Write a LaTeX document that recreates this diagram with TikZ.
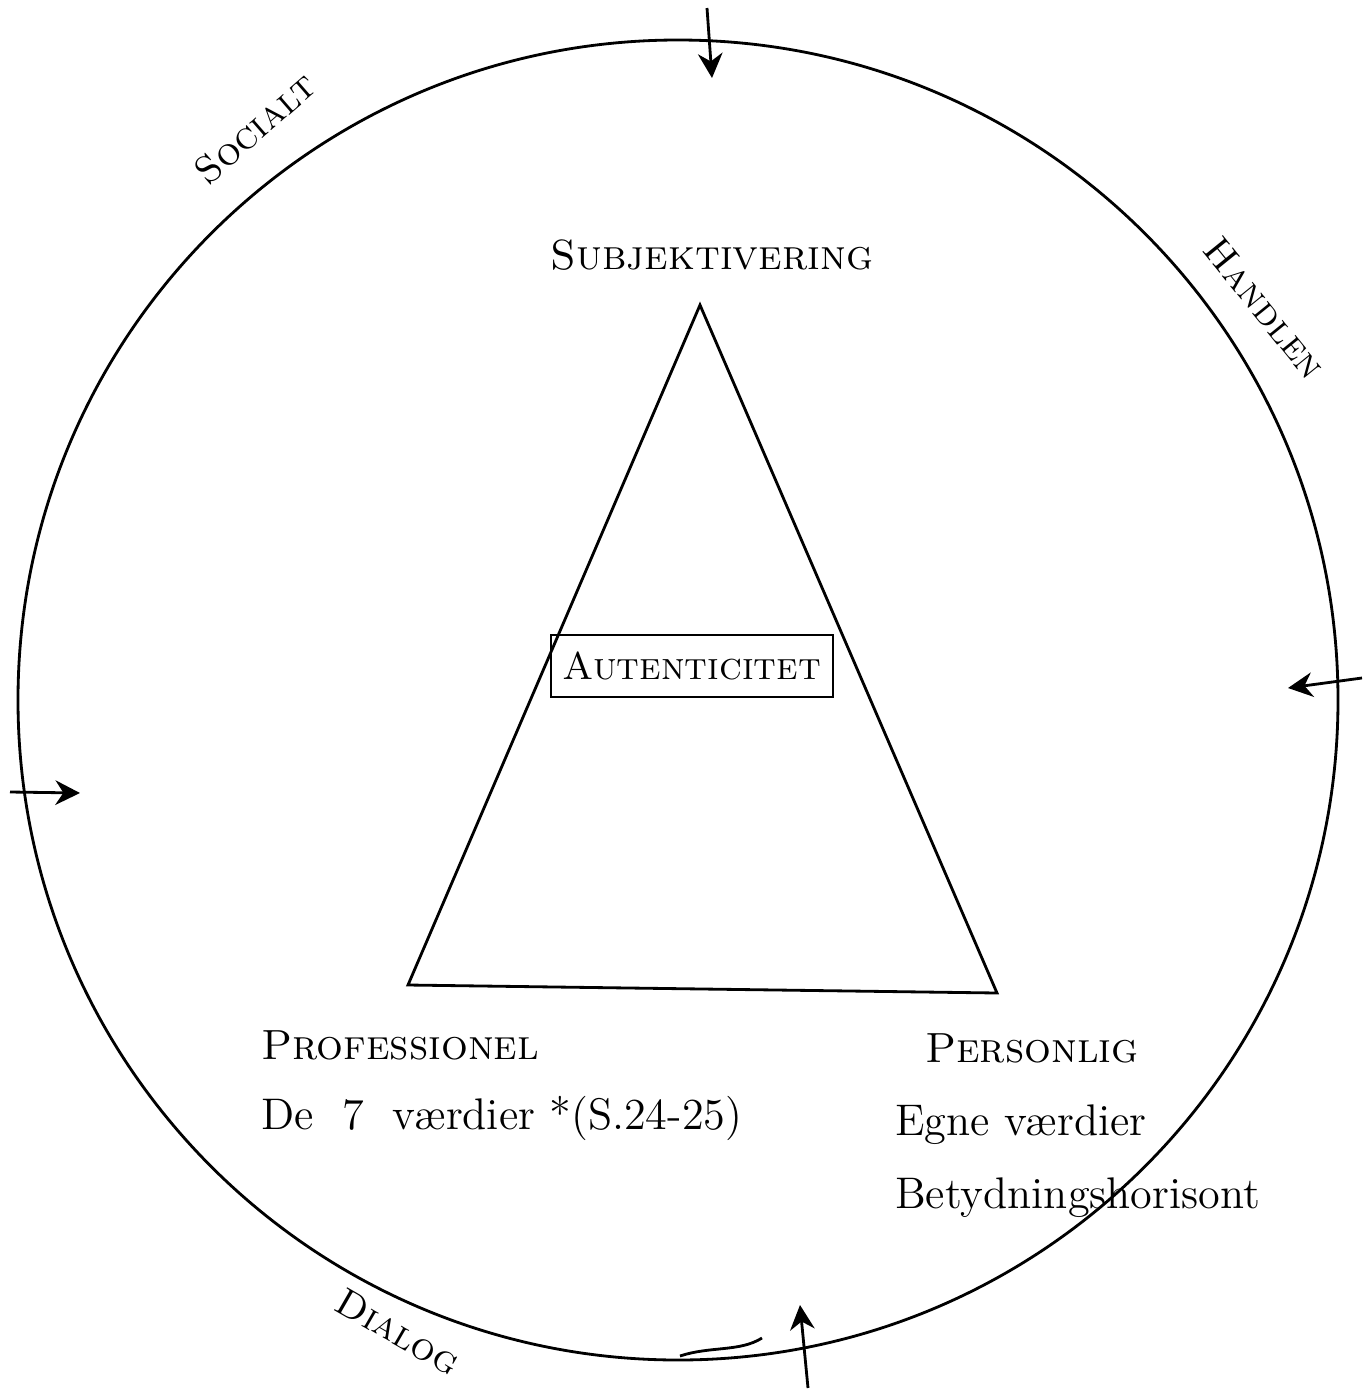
\documentclass[tikz,border=0pt]{standalone}
\usepackage{tikz}
\usetikzlibrary{arrows.meta}

\begin{document}
\begin{tikzpicture}[line width=0.8pt,
    pointer/.style={-{Stealth[length=7pt,width=7pt]}},
    heading/.style={font=\fontsize{12}{14}\selectfont\scshape},
    caption/.style={font=\fontsize{12.6}{15}\selectfont},
    side/.style={font=\fontsize{11}{13}\selectfont\scshape}]
  \useasboundingbox (0,0) rectangle (13.71,-13.91);
  % circle
  \draw (6.78,-7.00) circle (6.60);
  \draw (6.80,-13.56) .. controls (7.10,-13.46) and (7.40,-13.52) .. (7.62,-13.38);
  % triangle
  \coordinate (apex) at (7.00,-3.05);
  \coordinate (baseL) at (4.08,-9.85);
  \coordinate (baseR) at (9.97,-9.93);
  \draw (apex) -- (baseR) -- (baseL) -- cycle;
  \node[draw, minimum width=2.73cm, minimum height=0.62cm,
        font=\fontsize{11}{13}\selectfont\scshape] (aut) at (6.92,-6.66) {Autenticitet};
  % corners
  \node[heading] (subj) at (7.12,-2.55) {Subjektivering};
  \node[heading, anchor=west] (prof) at (2.48,-10.45) {Professionel};
  \node[caption, anchor=west] (prof2) at (2.48,-11.18) {De\ \ 7\ \ værdier *(S.24-25)};
  \node[heading, anchor=west] (pers) at (9.12,-10.48) {Personlig};
  \node[caption, anchor=west] (pers2) at (8.82,-11.25) {Egne værdier};
  \node[caption, anchor=west] (pers3) at (8.82,-11.98) {Betydningshorisont};
  % sides
  \node[side, rotate=41] (soc) at (2.55,-1.28) {Socialt};
  \node[side, rotate=-51] (hand) at (12.65,-3.08) {Handlen};
  \node[side, rotate=-30] (dial) at (3.98,-13.32) {Dialog};
  % arrows
  \coordinate (topA) at (7.07,-0.08);
  \coordinate (topB) at (7.12,-0.78);
  \coordinate (rightA) at (13.62,-6.78);
  \coordinate (rightB) at (12.88,-6.88);
  \coordinate (leftA) at (0.10,-7.92);
  \coordinate (leftB) at (0.80,-7.93);
  \coordinate (botA) at (8.08,-13.88);
  \coordinate (botB) at (8.00,-13.05);
  \draw[pointer] (topA) -- (topB);
  \draw[pointer] (rightA) -- (rightB);
  \draw[pointer] (leftA) -- (leftB);
  \draw[pointer] (botA) -- (botB);
\end{tikzpicture}
\end{document}
